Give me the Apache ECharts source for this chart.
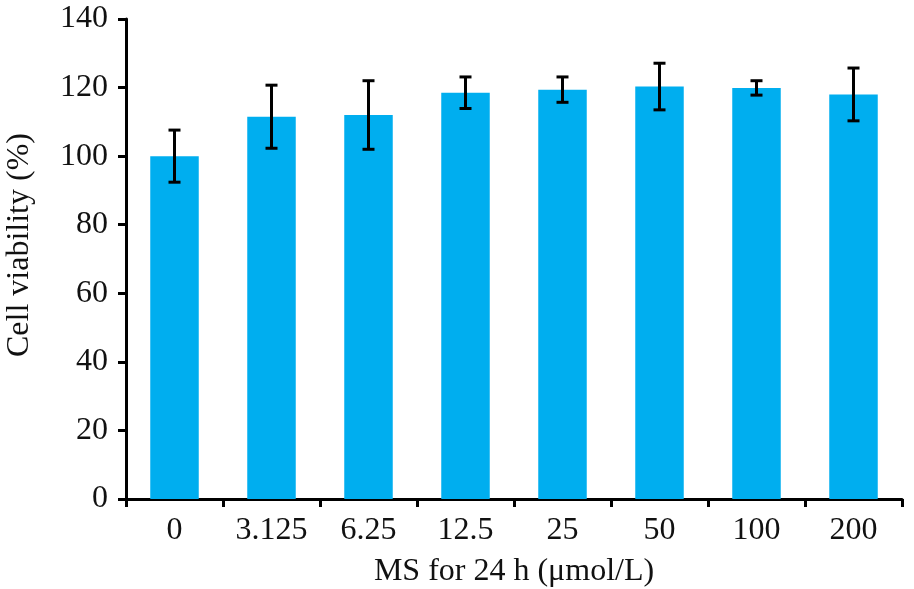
<!DOCTYPE html>
<html>
<head>
<meta charset="utf-8">
<script src="https://cdn.jsdelivr.net/npm/echarts@6/dist/echarts.min.js"></script>
<style>
  html, body { margin: 0; padding: 0; background: #fff; }
  #chart { width: 914px; height: 589px; }
</style>
</head>
<body>
<div id="chart"></div>
<script>
// MS concentrations (µmol/L)
const categories = ['0', '3.125', '6.25', '12.5', '25', '50', '100', '200'];
// mean cell viability (%)
const viability = [100, 111.5, 112, 118.5, 119.4, 120.3, 119.9, 118];
// error bar half-length (SD)
const viabilityErr = [7.6, 9.2, 10, 4.6, 3.7, 6.8, 2.1, 7.7];
const yTicks = [0, 20, 40, 60, 80, 100, 120, 140];

const fontFamily = '"Liberation Serif", "Times New Roman", serif';
const fontSize = 32;
const barColor = '#00AEEF';

const errData = categories.map((c, i) => [i, viability[i] - viabilityErr[i], viability[i] + viabilityErr[i]]);

const chart = echarts.init(document.getElementById('chart'));

chart.setOption({
  backgroundColor: '#fff',
  animation: false,
  grid: { left: 126, right: 12, top: 19, bottom: 90, containLabel: false, outerBoundsMode: 'none' },
  xAxis: {
    type: 'category',
    data: categories,
    name: 'MS for 24 h (μmol/L)',
    nameLocation: 'middle',
    nameGap: 57,
    nameTextStyle: { fontFamily: fontFamily, fontSize: fontSize, color: '#111' },
    axisLine: { lineStyle: { color: '#000', width: 3 } },
    axisTick: { show: true, length: 8, lineStyle: { color: '#000', width: 3 } },
    axisLabel: { fontFamily: fontFamily, fontSize: fontSize, color: '#111', margin: 16 }
  },
  yAxis: {
    type: 'value',
    min: yTicks[0],
    max: yTicks[yTicks.length - 1],
    interval: 20,
    name: 'Cell viability (%)',
    nameLocation: 'middle',
    nameGap: 90,
    nameTextStyle: { fontFamily: fontFamily, fontSize: fontSize, color: '#111', padding: [0, 0, 0, 28] },
    axisLine: { show: true, lineStyle: { color: '#000', width: 3 } },
    axisTick: { show: true, length: 8, lineStyle: { color: '#000', width: 3 } },
    axisLabel: { fontFamily: fontFamily, fontSize: fontSize, color: '#111', margin: 18 },
    splitLine: { show: false }
  },
  series: [
    {
      type: 'bar',
      data: viability,
      barWidth: '50%',
      itemStyle: { color: barColor }
    },
    {
      type: 'custom',
      data: errData,
      z: 10,
      renderItem: function (params, api) {
        const x = api.value(0);
        const lo = api.coord([x, api.value(1)]);
        const hi = api.coord([x, api.value(2)]);
        const half = 6;
        const style = { stroke: '#000', lineWidth: 3 };
        return {
          type: 'group',
          children: [
            { type: 'line', shape: { x1: hi[0], y1: hi[1], x2: lo[0], y2: lo[1] }, style: style },
            { type: 'line', shape: { x1: hi[0] - half, y1: hi[1], x2: hi[0] + half, y2: hi[1] }, style: style },
            { type: 'line', shape: { x1: lo[0] - half, y1: lo[1], x2: lo[0] + half, y2: lo[1] }, style: style }
          ]
        };
      }
    }
  ]
});

window.addEventListener('resize', () => {
  chart.resize();
});
</script>
</body>
</html>
